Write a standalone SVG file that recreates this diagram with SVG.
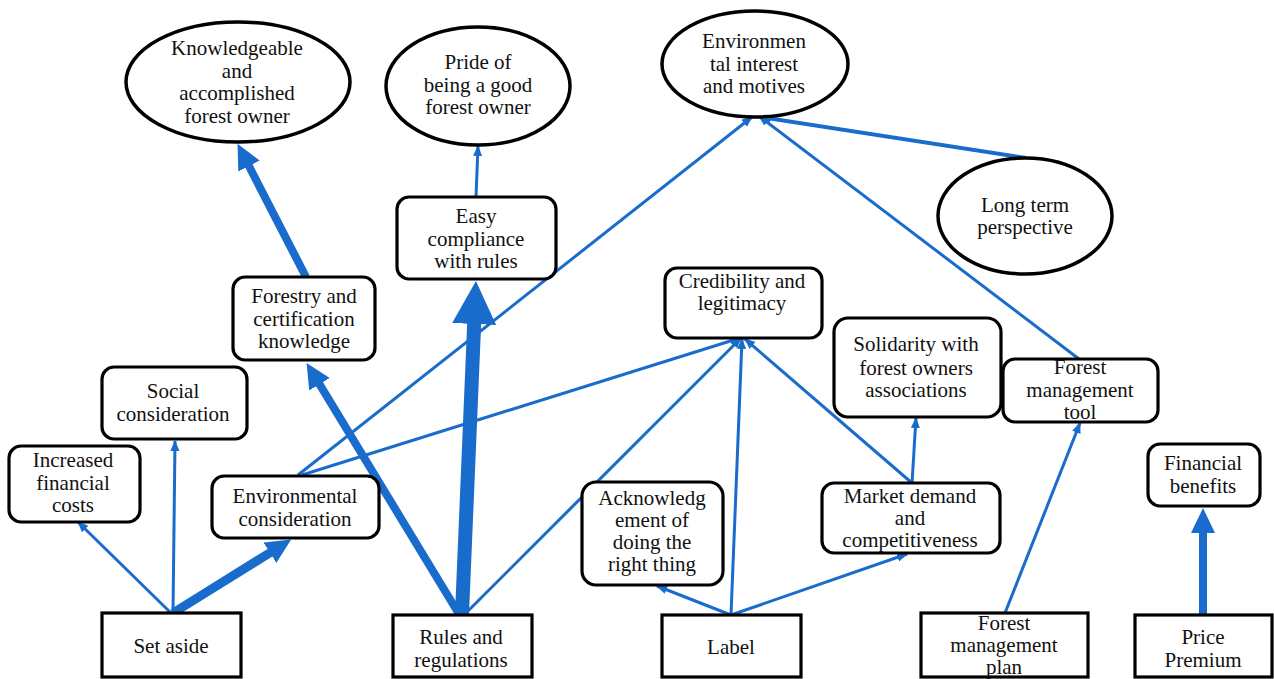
<svg xmlns="http://www.w3.org/2000/svg" width="1274" height="679" viewBox="0 0 1274 679">
<style>
.n{fill:#fff;stroke:#000;stroke-width:3.2}
.e{fill:#fff;stroke:#000;stroke-width:3.5}
.t{font-family:"Liberation Serif","Times New Roman",serif;font-size:21px;fill:#111;text-anchor:middle}
.c{fill:none;stroke:#1a6ccc;stroke-width:3}
.c8{fill:none;stroke:#1a6ccc;stroke-width:8}
.c9{fill:none;stroke:#1a6ccc;stroke-width:9}
.c13{fill:none;stroke:#1a6ccc;stroke-width:14}
</style>
<defs>
<marker id="s" markerUnits="userSpaceOnUse" markerWidth="12" markerHeight="10" refX="10" refY="4.5" orient="auto"><path d="M0,0 L11,4.5 L0,9 z" fill="#1a6ccc"/></marker>
<marker id="m" markerUnits="userSpaceOnUse" markerWidth="27" markerHeight="26" refX="1" refY="12" orient="auto"><path d="M0,0 L25,12 L0,24 z" fill="#1a6ccc"/></marker>
<marker id="l" markerUnits="userSpaceOnUse" markerWidth="45" markerHeight="46" refX="1" refY="22" orient="auto"><path d="M0,0 L43,22 L0,44 z" fill="#1a6ccc"/></marker>
</defs>
<g id="connectors">
<line class="c8" x1="306" y1="277" x2="248.5" y2="165.2" marker-end="url(#m)"/>
<line class="c8" x1="459" y1="614" x2="319" y2="383.4" marker-end="url(#m)"/>
<line class="c9" x1="173" y1="613" x2="270.8" y2="552.2" marker-end="url(#m)"/>
<line class="c8" x1="1203" y1="615" x2="1203" y2="532" marker-end="url(#m)"/>
<line class="c13" x1="462" y1="614" x2="474.2" y2="323" marker-end="url(#l)"/>
<line class="c" x1="476" y1="197" x2="478" y2="146" marker-end="url(#s)"/>
<line class="c" x1="173" y1="613" x2="175" y2="441" marker-end="url(#s)"/>
<line class="c" x1="171" y1="613" x2="78" y2="522" marker-end="url(#s)"/>
<line class="c" x1="298" y1="475" x2="752" y2="117" marker-end="url(#s)"/>
<line class="c" x1="302" y1="475" x2="740" y2="338" marker-end="url(#s)"/>
<line class="c" x1="466" y1="613" x2="741" y2="338" marker-end="url(#s)"/>
<line class="c" x1="731" y1="615" x2="742" y2="339" marker-end="url(#s)"/>
<line class="c" x1="912" y1="483" x2="745" y2="339" marker-end="url(#s)"/>
<line class="c" x1="912" y1="483" x2="916" y2="418" marker-end="url(#s)"/>
<line class="c" x1="731" y1="615" x2="657" y2="586" marker-end="url(#s)"/>
<line class="c" x1="731" y1="615" x2="907" y2="554" marker-end="url(#s)"/>
<line class="c" x1="1005" y1="613" x2="1080" y2="423" marker-end="url(#s)"/>
<line class="c" x1="1079" y1="359" x2="759" y2="116" marker-end="url(#s)"/>
<line class="c" style="stroke-width:4" x1="1026" y1="158" x2="761" y2="117" marker-end="url(#s)"/>
</g>
<g id="knowledgeable">
<ellipse class="e" cx="238" cy="82" rx="112" ry="60"/>
<text class="t" x="237" y="55">Knowledgeable</text>
<text class="t" x="237" y="78">and</text>
<text class="t" x="237" y="100">accomplished</text>
<text class="t" x="237" y="123">forest owner</text>
</g>
<g id="pride">
<ellipse class="e" cx="478" cy="86" rx="92" ry="59"/>
<text class="t" x="478" y="69">Pride of</text>
<text class="t" x="478" y="92">being a good</text>
<text class="t" x="478" y="114">forest owner</text>
</g>
<g id="env-interest">
<ellipse class="e" cx="755" cy="64" rx="93" ry="53"/>
<text class="t" x="754" y="48">Environmen</text>
<text class="t" x="754" y="71">tal interest</text>
<text class="t" x="754" y="93">and motives</text>
</g>
<g id="long-term">
<ellipse class="e" cx="1025" cy="216" rx="87" ry="58"/>
<text class="t" x="1025" y="212">Long term</text>
<text class="t" x="1025" y="234">perspective</text>
</g>
<g id="easy-compliance">
<rect class="n" x="397" y="197" width="159" height="82" rx="12"/>
<text class="t" x="476" y="223">Easy</text>
<text class="t" x="476" y="246">compliance</text>
<text class="t" x="476" y="268">with rules</text>
</g>
<g id="forestry-knowledge">
<rect class="n" x="233" y="277" width="142" height="83" rx="12"/>
<text class="t" x="304" y="303">Forestry and</text>
<text class="t" x="304" y="326">certification</text>
<text class="t" x="304" y="348">knowledge</text>
</g>
<g id="credibility">
<rect class="n" x="665" y="268" width="157" height="70" rx="12"/>
<text class="t" x="742" y="288">Credibility and</text>
<text class="t" x="742" y="310">legitimacy</text>
</g>
<g id="solidarity">
<rect class="n" x="834" y="318" width="167" height="99" rx="14"/>
<text class="t" x="916" y="351">Solidarity with</text>
<text class="t" x="916" y="375">forest owners</text>
<text class="t" x="916" y="397">associations</text>
</g>
<g id="fm-tool">
<rect class="n" x="1003" y="359" width="155" height="63" rx="12"/>
<text class="t" x="1080" y="374">Forest</text>
<text class="t" x="1080" y="397">management</text>
<text class="t" x="1080" y="419">tool</text>
</g>
<g id="financial-benefits">
<rect class="n" x="1148" y="444" width="112" height="62" rx="12"/>
<text class="t" x="1203" y="470">Financial</text>
<text class="t" x="1203" y="493">benefits</text>
</g>
<g id="market-demand">
<rect class="n" x="822" y="483" width="178" height="70" rx="12"/>
<text class="t" x="910" y="503">Market demand</text>
<text class="t" x="910" y="525">and</text>
<text class="t" x="910" y="547">competitiveness</text>
</g>
<g id="acknowledgement">
<rect class="n" x="582" y="482" width="141" height="103" rx="14"/>
<text class="t" x="652" y="505">Acknowledg</text>
<text class="t" x="652" y="527">ement of</text>
<text class="t" x="652" y="549">doing the</text>
<text class="t" x="652" y="571">right thing</text>
</g>
<g id="social">
<rect class="n" x="102" y="367" width="145" height="72" rx="12"/>
<text class="t" x="173" y="398">Social</text>
<text class="t" x="173" y="421">consideration</text>
</g>
<g id="increased-costs">
<rect class="n" x="9" y="446" width="131" height="76" rx="12"/>
<text class="t" x="73" y="467">Increased</text>
<text class="t" x="73" y="490">financial</text>
<text class="t" x="73" y="512">costs</text>
</g>
<g id="env-consideration">
<rect class="n" x="212" y="476" width="167" height="62" rx="12"/>
<text class="t" x="295" y="503">Environmental</text>
<text class="t" x="295" y="526">consideration</text>
</g>
<g id="set-aside">
<rect class="n" x="102" y="613" width="139" height="64"/>
<text class="t" x="171" y="653">Set aside</text>
</g>
<g id="rules">
<rect class="n" x="393" y="615" width="139" height="62"/>
<text class="t" x="461" y="644">Rules and</text>
<text class="t" x="461" y="667">regulations</text>
</g>
<g id="label">
<rect class="n" x="662" y="615" width="139" height="62"/>
<text class="t" x="731" y="654">Label</text>
</g>
<g id="fm-plan">
<rect class="n" x="921" y="613" width="167" height="64"/>
<text class="t" x="1004" y="630">Forest</text>
<text class="t" x="1004" y="652">management</text>
<text class="t" x="1004" y="674">plan</text>
</g>
<g id="price-premium">
<rect class="n" x="1135" y="615" width="137" height="62"/>
<text class="t" x="1203" y="644">Price</text>
<text class="t" x="1203" y="667">Premium</text>
</g>
</svg>
